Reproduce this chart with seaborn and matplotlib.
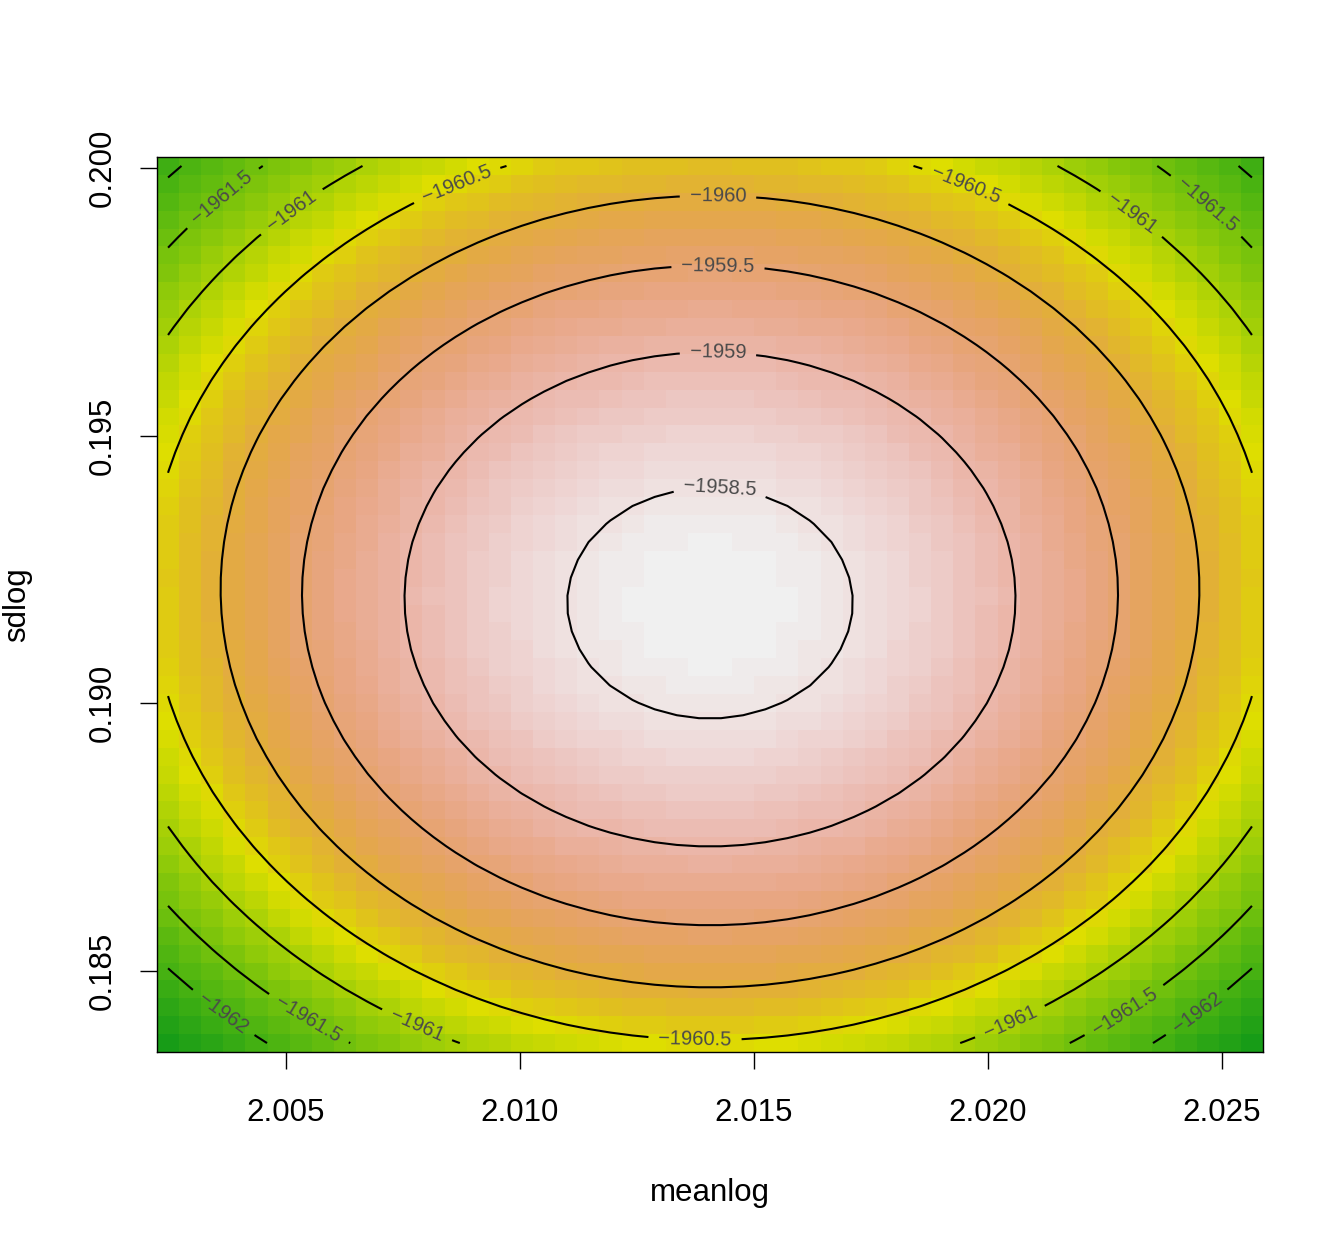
import numpy as np
import matplotlib
matplotlib.use("Agg")
import matplotlib.pyplot as plt
import seaborn as sns
from matplotlib.colors import ListedColormap, hsv_to_rgb

# ---- values ----
n_obs = 1105                 # sample size implied by contour spacing
meanlog_hat = 2.01406        # maximum-likelihood meanlog (centre of ellipses)
sdlog_hat = 0.19185          # maximum-likelihood sdlog
loglik_max = -1958.36        # peak log-likelihood
meanlog_range = [2.00248, 2.02564]
sdlog_range = [0.18365, 0.20004]
n_grid = 50
contour_levels = [-1962.0, -1961.5, -1961.0, -1960.5, -1960.0, -1959.5, -1959.0, -1958.5]
x_ticks = [2.005, 2.010, 2.015, 2.020, 2.025]
y_ticks = [0.185, 0.190, 0.195, 0.200]
n_colors = 100

meanlog = np.linspace(meanlog_range[0], meanlog_range[1], n_grid)
sdlog = np.linspace(sdlog_range[0], sdlog_range[1], n_grid)
M, S = np.meshgrid(meanlog, sdlog)  # rows = sdlog, cols = meanlog
Z = (loglik_max + n_obs * np.log(sdlog_hat / S) + n_obs / 2
     - n_obs * (sdlog_hat**2 + (M - meanlog_hat)**2) / (2 * S**2))

# terrain-like palette (green -> yellow -> orange -> pink -> white)
def terrain_colors(n):
    k = n // 2
    t2 = np.linspace(0, 1, n - k + 1)[1:]
    h = np.concatenate([np.linspace(4/12, 2/12, k), (2/12) * (1 - t2) ** 1.25])
    s = np.concatenate([np.linspace(0.85, 1, k), 1 - t2])
    v = np.concatenate([np.linspace(0.61, 0.87, k), 0.87 + 0.07 * t2])
    return hsv_to_rgb(np.stack([h, s, v], axis=1))

cmap = ListedColormap(terrain_colors(n_colors))

sns.set_style("white")
plt.rcParams['font.family'] = ['Liberation Sans', 'DejaVu Sans']

fig = plt.figure(figsize=(13.44, 12.48), dpi=100)
ax = fig.add_axes([157/1344, 1 - 1052/1248, (1263-157)/1344, (1052-157)/1248])

sns.heatmap(Z, cmap=cmap, vmin=Z.min(), vmax=Z.max(), cbar=False, ax=ax,
            xticklabels=False, yticklabels=False, rasterized=True)
ax.invert_yaxis()  # low sdlog at bottom

dmu = meanlog[1] - meanlog[0]
dsd = sdlog[1] - sdlog[0]
def xc(v):
    return (np.asarray(v) - meanlog[0]) / dmu + 0.5
def yc(v):
    return (np.asarray(v) - sdlog[0]) / dsd + 0.5

Xc, Yc = np.meshgrid(np.arange(n_grid) + 0.5, np.arange(n_grid) + 0.5)
cs = ax.contour(Xc, Yc, Z, levels=contour_levels, colors='black',
                linewidths=1.5, linestyles='solid')

label_pos = [
    (2.003632, 0.199458), (2.005128, 0.199178), (2.008654, 0.199682),
    (2.014231, 0.199477), (2.014231, 0.198132), (2.014231, 0.196525),
    (2.014274, 0.193854), (2.019509, 0.199645), (2.023077, 0.199159),
    (2.024679, 0.199309), (2.003632, 0.184178), (2.005470, 0.184085),
    (2.007756, 0.183898), (2.013739, 0.183711), (2.020470, 0.184047),
    (2.022928, 0.184234), (2.024530, 0.184140),
]
manual = [(float(xc(a)), float(yc(b))) for a, b in label_pos]

def fmt(v):
    return ('%g' % v).replace('-', '\u2212')

ax.clabel(cs, inline=True, fontsize=14.5, colors='#4a4a4a', fmt=fmt,
          manual=manual, inline_spacing=10)

ax.set_xlim(0, n_grid)
ax.set_ylim(0, n_grid)

ax.set_xticks(xc(x_ticks))
ax.set_xticklabels(['%.3f' % t for t in x_ticks])
ax.set_yticks(yc(y_ticks))
ax.set_yticklabels(['%.3f' % t for t in y_ticks], rotation=90, va='center')

for sp in ax.spines.values():
    sp.set_visible(True)
    sp.set_color('black')
    sp.set_linewidth(1.0)

ax.tick_params(axis='both', which='major', direction='out', length=12, width=1.0,
               labelsize=22.5, color='black', labelcolor='black',
               bottom=True, left=True, top=False, right=False)
ax.tick_params(axis='x', pad=21)
ax.tick_params(axis='y', pad=16)

ax.set_xlabel('meanlog', fontsize=22.5, labelpad=36, color='black')
ax.set_ylabel('sdlog', fontsize=22.5, labelpad=40, color='black')

fig.savefig('out.png', dpi=100, facecolor='white')
